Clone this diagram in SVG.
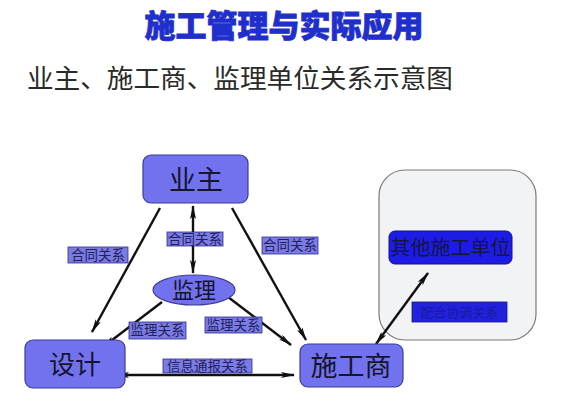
<svg xmlns="http://www.w3.org/2000/svg" width="561" height="410" viewBox="0 0 561 410">
<defs>
<marker id="ah" viewBox="0 0 14 6" refX="13" refY="3" markerWidth="14" markerHeight="6" markerUnits="userSpaceOnUse" orient="auto-start-reverse">
<path d="M0,0 L14,3 L0,6 L3,3 Z" fill="#111"/>
</marker>
</defs>
<style>
.t{font-family:"Noto Sans CJK SC","Noto Sans",sans-serif}
.node{fill:#7272ee;stroke:#3d3d9a;stroke-width:1.2}
.nt{font-size:27px;fill:#15152e;text-anchor:middle}
.lb{fill:#7b7be6;stroke:#2e2e8a;stroke-width:0.8}
.lt{font-size:13.5px;fill:#22225a;text-anchor:middle}
.ln{stroke:#111;stroke-width:2.4;fill:none}
</style>
<rect width="561" height="410" fill="#ffffff"/>
<text class="t" x="284" y="37" font-size="31" font-weight="900" fill="#1f2fcc" text-anchor="middle" stroke="#1f2fcc" stroke-width="0.8">施工管理与实际应用</text>
<text class="t" x="27" y="88" font-size="26" fill="#2a2a2a" textLength="426" lengthAdjust="spacingAndGlyphs">业主、施工商、监理单位关系示意图</text>

<g id="group-other">
<rect x="379" y="170" width="157" height="170" rx="26" fill="#f2f3f5" stroke="#7a7a7a" stroke-width="1.2"/>
</g>

<g id="connectors">
<line class="ln" x1="160" y1="208" x2="92" y2="332" marker-end="url(#ah)"/>
<line class="ln" x1="232" y1="208" x2="306" y2="340" marker-end="url(#ah)"/>
<line class="ln" x1="193" y1="206" x2="193" y2="273" marker-start="url(#ah)" marker-end="url(#ah)"/>
<line class="ln" x1="162" y1="302" x2="103" y2="347" marker-end="url(#ah)"/>
<line class="ln" x1="228" y1="297" x2="291" y2="345" marker-end="url(#ah)"/>
<line class="ln" x1="116" y1="375" x2="294" y2="375" marker-start="url(#ah)" marker-end="url(#ah)"/>
<line class="ln" x1="376" y1="344" x2="428" y2="273" marker-start="url(#ah)" marker-end="url(#ah)"/>
</g>

<g id="node-owner">
<rect class="node" x="143" y="155" width="105" height="48" rx="8"/>
<text class="t nt" x="196" y="190">业主</text>
</g>
<g id="node-supervisor">
<ellipse class="node" cx="194" cy="290" rx="41" ry="15"/>
<text class="t nt" x="194" y="298" style="font-size:22px">监理</text>
</g>
<g id="node-design">
<rect class="node" x="25" y="340" width="100" height="48" rx="8"/>
<text class="t nt" x="75" y="374" style="font-size:26px">设计</text>
</g>
<g id="node-contractor">
<rect class="node" x="300" y="344" width="103" height="43" rx="8"/>
<text class="t nt" x="351" y="376">施工商</text>
</g>
<g id="node-other">
<rect x="389" y="231" width="123" height="33" rx="6" fill="#1c1ce6" stroke="#12128a" stroke-width="1"/>
<text class="t" x="450.5" y="255" font-size="20" fill="#16163a" text-anchor="middle">其他施工单位</text>
</g>

<g id="labels">
<rect class="lb" x="167" y="232" width="56" height="14"/>
<text class="t lt" x="195" y="244">合同关系</text>
<rect class="lb" x="68" y="247" width="60" height="16"/>
<text class="t lt" x="98" y="260">合同关系</text>
<rect class="lb" x="262" y="237" width="56" height="17"/>
<text class="t lt" x="290" y="250">合同关系</text>
<rect class="lb" x="129" y="322" width="57" height="17"/>
<text class="t lt" x="157.5" y="335">监理关系</text>
<rect class="lb" x="205" y="317" width="57" height="16"/>
<text class="t lt" x="233.5" y="330">监理关系</text>
<rect class="lb" x="163" y="359" width="89" height="14"/>
<text class="t lt" x="207.5" y="371">信息通报关系</text>
<rect x="412" y="302" width="95" height="20" fill="#2222dd" stroke="#14148a" stroke-width="0.8"/>
<text class="t" x="459.5" y="317" font-size="13" fill="#1a1aa0" text-anchor="middle">配合协调关系</text>
</g>
</svg>
